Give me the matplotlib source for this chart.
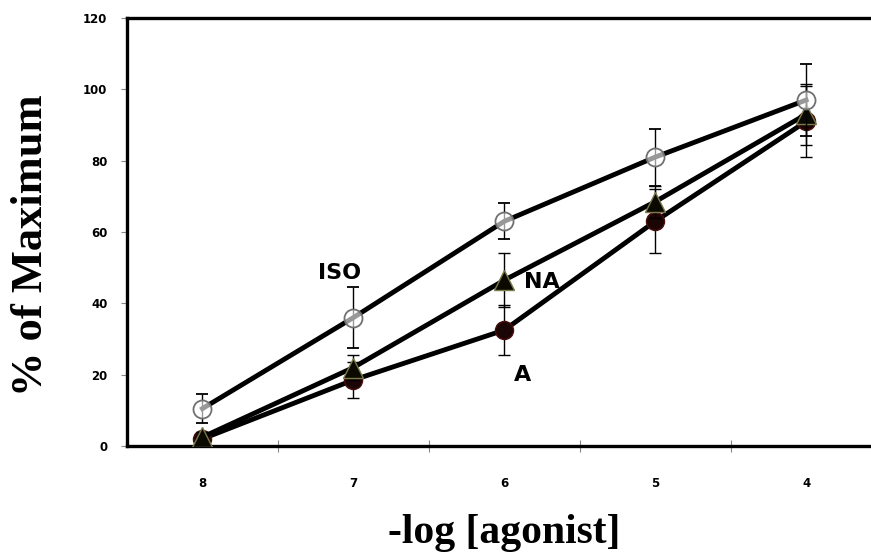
import numpy as np
import matplotlib.pyplot as plt

# Data
doses = ["8", "7", "6", "5", "4"]
iso = [10.5, 36, 63, 81, 97]
iso_err = [4, 8.5, 5, 8, 10]
na = [2.5, 22, 46.5, 68.5, 93]
na_err = [1.5, 3.5, 7.5, 4.5, 8.5]
a = [2, 18.5, 32.5, 63, 91]
a_err = [1.5, 5, 7, 9, 10]

x = np.arange(len(doses))

fig = plt.figure(figsize=(8.71, 5.58), dpi=100)
ax = fig.add_axes([0.1458, 0.2007, 0.8542, 0.767])

ax.errorbar(x, a, yerr=a_err, color="black", lw=3.5, marker="o", ms=13,
            mfc="#1c0505", mec="#4a0d0d", mew=1, ecolor="black", elinewidth=1,
            capsize=4, capthick=1, zorder=3)
ax.errorbar(x, na, yerr=na_err, color="black", lw=3.5, marker="^", ms=14,
            mfc="#0a0a00", mec="#7a7a4a", mew=1, ecolor="black", elinewidth=1,
            capsize=4, capthick=1, zorder=4)
ax.errorbar(x, iso, yerr=iso_err, color="black", lw=3.5, marker="o", ms=13,
            mfc=(1, 1, 1, 0.6), mec="#707070", mew=1.3, ecolor="black",
            elinewidth=1, capsize=4, capthick=1, zorder=5)

ax.text(0.91, 48.5, "ISO", fontsize=16, fontweight="bold", ha="center", va="center")
ax.text(2.25, 46, "NA", fontsize=16, fontweight="bold", ha="center", va="center")
ax.text(2.12, 20, "A", fontsize=16, fontweight="bold", ha="center", va="center")

ax.set_xlim(-0.5, 4.43)
ax.set_ylim(0, 120)
ax.set_yticks(range(0, 121, 20))
ax.set_xticks(x)
ax.set_xticklabels(doses)
ax.set_xticks(x[:-1] + 0.5, minor=True)

for s in ["left", "top", "bottom"]:
    ax.spines[s].set_linewidth(2.4)
ax.spines["right"].set_visible(False)

ax.tick_params(axis="y", length=4, width=0.8, color="#888888", labelsize=8.5, pad=10)
ax.tick_params(axis="x", which="major", length=0, labelsize=8.5, pad=22)
ax.tick_params(axis="x", which="minor", length=8, width=0.8, color="#888888",
               direction="inout")
for lbl in ax.get_xticklabels() + ax.get_yticklabels():
    lbl.set_fontweight("black")

ax.set_xlabel("-log [agonist]", fontsize=30, fontweight="bold",
              family="Liberation Serif")
ax.xaxis.set_label_coords(0.507, -0.158)
ax.set_ylabel("% of Maximum", fontsize=32, fontweight="bold",
              family="Liberation Serif")
ax.yaxis.set_label_coords(-0.102, 0.47)

fig.savefig("out.png", dpi=100)
